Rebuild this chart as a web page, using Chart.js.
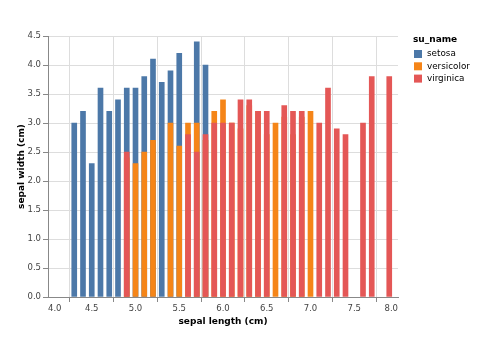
<!DOCTYPE html>
<html>
<head>
<meta charset="utf-8">
<script src="https://cdn.jsdelivr.net/npm/chart.js@4"></script>
<style>
  html, body { margin: 0; padding: 0; background: #fff; }
  #wrap { width: 480px; height: 360px; }
</style>
</head>
<body>
<div id="wrap"><canvas id="irisChart" width="480" height="360"></canvas></div>
<script>
// tallest sepal width per sepal length, one pair of arrays per species
const speciesNames = ['setosa', 'versicolor', 'virginica'];
const speciesColors = ['#4c78a8', '#f58518', '#e45756'];

const setosaLength = [4.3, 4.4, 4.5, 4.6, 4.7, 4.8, 4.9, 5.0, 5.1, 5.2, 5.3, 5.4, 5.5, 5.7, 5.8];
const setosaWidth  = [3.0, 3.2, 2.3, 3.6, 3.2, 3.4, 3.6, 3.6, 3.8, 4.1, 3.7, 3.9, 4.2, 4.4, 4.0];

const versicolorLength = [4.9, 5.0, 5.1, 5.2, 5.4, 5.5, 5.6, 5.7, 5.8, 5.9, 6.0, 6.1, 6.2, 6.3, 6.4, 6.5, 6.6, 6.7, 6.8, 6.9, 7.0];
const versicolorWidth  = [2.4, 2.3, 2.5, 2.7, 3.0, 2.6, 3.0, 3.0, 2.7, 3.2, 3.4, 3.0, 2.9, 3.3, 3.2, 2.8, 3.0, 3.1, 2.8, 3.1, 3.2];

const virginicaLength = [4.9, 5.6, 5.7, 5.8, 5.9, 6.0, 6.1, 6.2, 6.3, 6.4, 6.5, 6.7, 6.8, 6.9, 7.1, 7.2, 7.3, 7.4, 7.6, 7.7, 7.9];
const virginicaWidth  = [2.5, 2.8, 2.5, 2.8, 3.0, 3.0, 3.0, 3.4, 3.4, 3.2, 3.2, 3.3, 3.2, 3.2, 3.0, 3.6, 2.9, 2.8, 3.0, 3.8, 3.8];

const toPoints = (xs, ys) => xs.map((x, i) => ({ x: x, y: ys[i] }));
const seriesPoints = [
  toPoints(setosaLength, setosaWidth),
  toPoints(versicolorLength, versicolorWidth),
  toPoints(virginicaLength, virginicaWidth),
];

const FONT = '"DejaVu Sans", Verdana, sans-serif';
Chart.defaults.font.family = FONT;

// legend drawn at the right, like the vega one
const sideLegend = {
  id: 'sideLegend',
  afterDraw(chart) {
    const c = chart.ctx;
    const x0 = 413;
    c.save();
    c.textBaseline = 'middle';
    c.textAlign = 'left';
    c.fillStyle = '#000';
    c.font = 'bold 9px ' + FONT;
    c.fillText('su_name', x0, 40);
    c.font = '8.8px ' + FONT;
    speciesNames.forEach((name, i) => {
      const y = 54 + i * 12.3;
      c.fillStyle = speciesColors[i];
      c.fillRect(x0 + 1, y - 4, 8, 8);
      c.fillStyle = '#000';
      c.fillText(name, x0 + 14, y);
    });
    c.restore();
  }
};

const ctx = document.getElementById('irisChart').getContext('2d');
const irisChart = new Chart(ctx, {
  type: 'bar',
  data: {
    datasets: speciesNames.map((name, i) => ({
      label: name,
      data: seriesPoints[i],
      backgroundColor: speciesColors[i],
      order: 3 - i, // virginica painted last, on top
      barThickness: 5,
      grouped: false,
    })),
  },
  options: {
    responsive: false,
    animation: false,
    layout: { padding: { left: 12, right: 82, top: 36, bottom: 33 } },
    plugins: {
      legend: { display: false },
      tooltip: { enabled: false },
    },
    scales: {
      x: {
        type: 'linear',
        min: 4.0,
        max: 8.0,
        offset: false,
        afterFit: (s) => { s.height = 30; },
        grid: { color: '#ddd', tickColor: '#888', tickLength: 5 },
        border: { color: '#888' },
        ticks: {
          stepSize: 0.5,
          align: 'inner',
          padding: 2,
          color: '#444',
          font: { size: 8.5 },
          callback: (v) => v.toFixed(1),
        },
        title: { display: true, text: 'sepal length (cm)', color: '#000', font: { size: 9, weight: 'bold' }, padding: 0 },
      },
      y: {
        min: 0,
        max: 4.5,
        afterFit: (s) => { s.width = 36; },
        grid: { color: '#ddd', tickColor: '#888', tickLength: 5 },
        border: { color: '#888' },
        ticks: {
          stepSize: 0.5,
          padding: 2,
          color: '#444',
          font: { size: 8.5 },
          callback: (v) => v.toFixed(1),
        },
        title: { display: true, text: 'sepal width (cm)', color: '#000', font: { size: 9, weight: 'bold' }, padding: { top: 4, bottom: 0 } },
      },
    },
  },
  plugins: [sideLegend],
});
</script>
</body>
</html>
